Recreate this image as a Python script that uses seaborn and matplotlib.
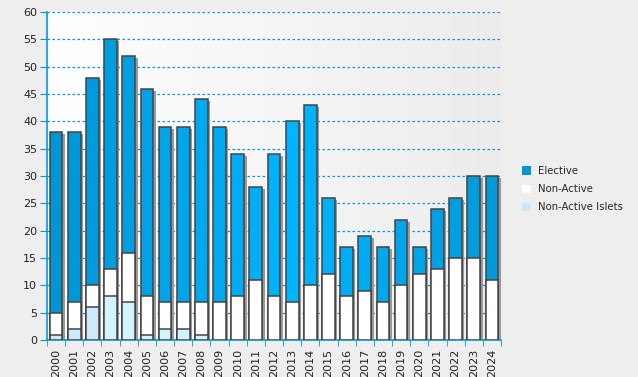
import numpy as np
import pandas as pd
import matplotlib
matplotlib.use("Agg")
import matplotlib.pyplot as plt
import matplotlib.transforms as mtrans
from matplotlib.colors import LinearSegmentedColormap, to_rgb
from matplotlib.patches import Patch
import seaborn as sns

years = [str(y) for y in range(2000, 2025)]
totals = [38, 38, 48, 55, 52, 46, 39, 39, 44, 39, 34, 28, 34, 40, 43, 26, 17, 19, 17, 22, 17, 24, 26, 30, 30]
non_active_top = [5, 7, 10, 13, 16, 8, 7, 7, 7, 7, 8, 11, 8, 7, 10, 12, 8, 9, 7, 10, 12, 13, 15, 15, 11]
islets = [1, 2, 6, 8, 7, 1, 2, 2, 1, 0, 0, 0, 0, 0, 0, 0, 0, 0, 0, 0, 0, 0, 0, 0, 0]

df = pd.DataFrame({"year": years, "total": totals, "na_top": non_active_top,
                   "islets": islets})

sns.set_style("white")
plt.rcParams["font.family"] = ["DejaVu Sans"]

fig = plt.figure(figsize=(6.38, 3.77), dpi=100)
fig.patch.set_facecolor("#EEEEEE")
ax = fig.add_axes([47 / 638, 37 / 377, 454 / 638, 328 / 377])
n = len(years)

# gradient background
grad = np.linspace(0, 1, 256).reshape(1, -1)
cm_bg = LinearSegmentedColormap.from_list("bg", ["#FFFFFF", "#ECECEC"])
ax.imshow(grad, extent=[-0.5, n - 0.5, 0, 60], aspect="auto", cmap=cm_bg,
          zorder=0, interpolation="bicubic")

# bar colours (horizontal gradient across the plot)
c1, c2, c3 = np.array(to_rgb("#0096D6")), np.array(to_rgb("#00B4FF")), np.array(to_rgb("#009ADA"))
el_cols = []
for k in range(n):
    t = k / (n - 1)
    if t < 0.55:
        c = c1 + (c2 - c1) * (t / 0.55)
    else:
        c = c2 + (c3 - c2) * ((t - 0.55) / 0.45)
    el_cols.append(tuple(c))
isl_cols = ["#CDE9FA" if k < 3 else "#D3F3FD" for k in range(n)]

W = 0.70
common = dict(width=W, edgecolor="#444444", linewidth=1.1, saturation=1)

# shadows
shadow_tr = ax.transData + mtrans.ScaledTranslation(2.5 / 100, -2 / 100, fig.dpi_scale_trans)
for k, tot in enumerate(totals):
    r = plt.Rectangle((k - W / 2, 0), W, tot, facecolor="#9A9A9A", edgecolor="none",
                      zorder=2, transform=shadow_tr)
    ax.add_patch(r)

sns.barplot(data=df, x="year", y="total", ax=ax, palette=el_cols, hue="year",
            legend=False, zorder=3, **common)
sns.barplot(data=df, x="year", y="na_top", ax=ax, color="white", zorder=4, **common)
sns.barplot(data=df, x="year", y="islets", ax=ax, palette=isl_cols, hue="year",
            legend=False, zorder=5, **common)

for p in ax.patches:
    if p.get_height() <= 0:
        p.set_visible(False)

ax.set_xlim(-0.5, n - 0.5)
ax.set_ylim(0, 60)
ax.set_yticks(range(0, 61, 5))
ax.set_xlabel("")
ax.set_ylabel("")
ax.yaxis.grid(True, color="#0099DD", linestyle=(0, (2, 2)), linewidth=0.9)
ax.set_axisbelow(True)
for g in ax.get_ygridlines():
    g.set_zorder(1)

blue = "#0099DD"
ax.spines["top"].set_visible(False)
ax.spines["right"].set_visible(False)
ax.spines["left"].set_color(blue)
ax.spines["bottom"].set_color(blue)
ax.spines["left"].set_linewidth(1.2)
ax.spines["bottom"].set_linewidth(1.2)

ax.tick_params(axis="y", direction="out", length=5, color=blue, labelsize=8,
               labelcolor="#222222", pad=2, left=True, right=False)
ax.tick_params(axis="x", bottom=False, labelsize=8, labelrotation=90, labelcolor="#222222", pad=3)
ax.set_xticks(np.arange(-0.5, n, 1), minor=True)
ax.tick_params(axis="x", which="minor", bottom=True, length=4, color=blue, direction="out")

handles = [Patch(facecolor="#0096D6", edgecolor="none", label="Elective"),
           Patch(facecolor="white", edgecolor="none", label="Non-Active"),
           Patch(facecolor="#CCE8F8", edgecolor="none", label="Non-Active Islets")]
fig.legend(handles=handles, loc="upper left", bbox_to_anchor=(513 / 638, 1 - 157 / 377),
           frameon=False, fontsize=7.3, handlelength=0.9, handleheight=0.9,
           handletextpad=0.7, labelspacing=0.8)

fig.savefig("out.png", dpi=100, facecolor=fig.get_facecolor())
